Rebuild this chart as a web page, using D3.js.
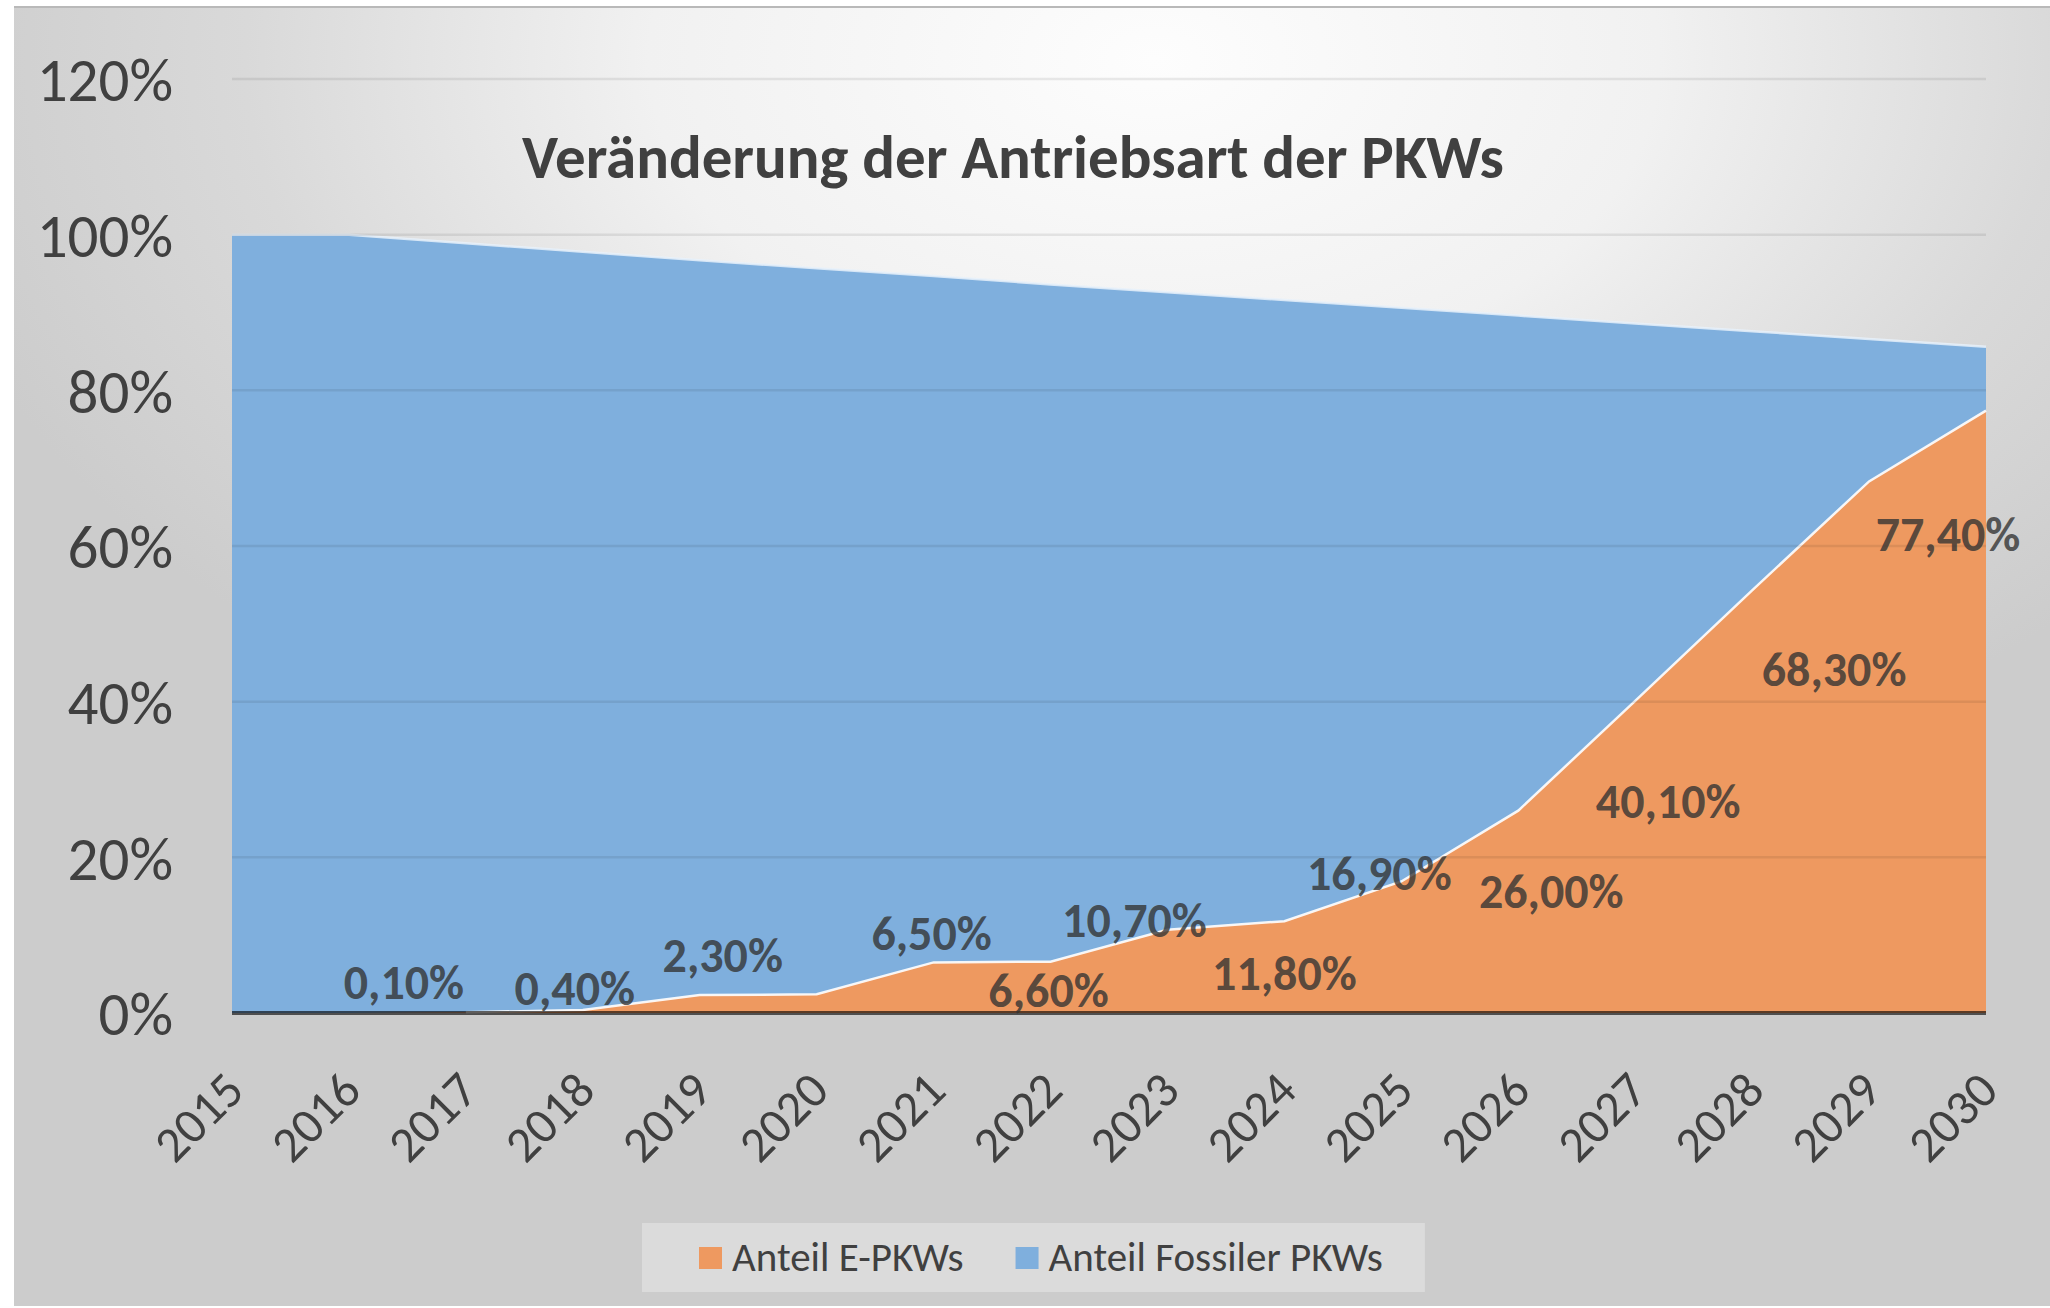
<!DOCTYPE html>
<meta charset="utf-8">
<style>
  body { margin: 0; background: #fff; }
  svg text { font-family: Calibri, Carlito, Lato, sans-serif; }
</style>
<body>
<script src="https://cdn.jsdelivr.net/npm/d3@7"></script>
<script>
// data (percent)
var years = [2015, 2016, 2017, 2018, 2019, 2020, 2021, 2022, 2023, 2024, 2025, 2026, 2027, 2028, 2029, 2030];
var anteilE = [0, 0, 0.1, 0.4, 2.3, 2.4, 6.5, 6.6, 10.7, 11.8, 16.9, 26.0, 40.1, 54.3, 68.3, 77.4];
var anteilFossil = [100, 100, 98.9, 97.8, 96.7, 95.7, 94.7, 93.6, 92.6, 91.6, 90.6, 89.6, 88.6, 87.6, 86.6, 85.6];
var yTicks = [0, 20, 40, 60, 80, 100, 120];
var labelYears = [2017, 2018, 2019, 2021, 2022, 2023, 2024, 2025, 2026, 2027, 2029, 2030];
var seriesNames = ["Anteil E-PKWs", "Anteil Fossiler PKWs"];
var chartTitle = "Veränderung der Antriebsart der PKWs";

// layout
var width = 2050, height = 1308;
var colors = { e: "#ee9960", fossil: "#7fafdd" };
// label nudges (px) from the data point to the label centre, as placed by hand in the original
var nudge = {
  2017: [-62, -31], 2018: [-8, -22], 2019: [23, -40], 2021: [-2, -30],
  2022: [-2, 28], 2023: [-33, -10], 2024: [0, 52], 2025: [-22, -9],
  2026: [33, 80], 2027: [33, 100], 2029: [-35, 187], 2030: [-38, 123]
};

var x = d3.scaleLinear().domain([2015, 2030]).range([232, 1986]);
var y = d3.scaleLinear().domain([0, 120]).range([1013, 79]);

var svg = d3.select("body").append("svg")
    .attr("width", width)
    .attr("height", height);

var defs = svg.append("defs");
var grad = defs.append("radialGradient")
    .attr("id", "bg")
    .attr("cx", 0.56).attr("cy", 0.04).attr("r", 0.62);
grad.append("stop").attr("offset", 0).attr("stop-color", "#fdfdfd");
grad.append("stop").attr("offset", 0.4).attr("stop-color", "#f1f1f1");
grad.append("stop").attr("offset", 0.72).attr("stop-color", "#d9d9d9");
grad.append("stop").attr("offset", 1).attr("stop-color", "#cccccc");

svg.append("rect")
    .attr("x", 14).attr("y", 7)
    .attr("width", width - 14).attr("height", height - 9)
    .attr("fill", "url(#bg)");
svg.append("line")
    .attr("x1", 14).attr("x2", width).attr("y1", 7).attr("y2", 7)
    .attr("stroke", "#b9b9b9").attr("stroke-width", 2);

var rows = years.map(function(yr, i) {
  return { year: yr, e: anteilE[i], fossil: anteilFossil[i] };
});

function areaFor(key) {
  return d3.area()
      .x(function(d) { return x(d.year); })
      .y0(y(0))
      .y1(function(d) { return y(d[key]); });
}
function lineFor(key) {
  return d3.line()
      .defined(function(d) { return d[key] > 0; })
      .x(function(d) { return x(d.year); })
      .y(function(d) { return y(d[key]); });
}

svg.append("path").datum(rows)
    .attr("fill", colors.fossil)
    .attr("d", areaFor("fossil"));
svg.append("path").datum(rows)
    .attr("fill", "none")
    .attr("stroke", "#e8f1fa").attr("stroke-opacity", 0.85).attr("stroke-width", 2.5)
    .attr("d", lineFor("fossil"));

svg.append("path").datum(rows)
    .attr("fill", colors.e)
    .attr("d", areaFor("e"));
svg.append("path").datum(rows)
    .attr("fill", "none")
    .attr("stroke", "#ffffff").attr("stroke-opacity", 0.9).attr("stroke-width", 2.5)
    .attr("d", lineFor("e"));

// gridlines over the areas, faint
svg.append("g").selectAll("line")
    .data(yTicks.filter(function(t) { return t > 0; }))
    .enter().append("line")
    .attr("x1", x(2015)).attr("x2", x(2030))
    .attr("y1", function(d) { return y(d); })
    .attr("y2", function(d) { return y(d); })
    .attr("stroke", "#000").attr("stroke-opacity", 0.08).attr("stroke-width", 2.5);

// y axis
var yAxis = svg.append("g")
    .attr("transform", "translate(" + x(2015) + ",0)")
    .call(d3.axisLeft(y).tickValues(yTicks).tickSize(0).tickPadding(59)
      .tickFormat(function(d) { return d + "%"; }));
yAxis.select(".domain").remove();
yAxis.selectAll("text")
    .attr("dy", "0.36em")
    .style("font-size", "61px")
    .style("fill", "#404040");

// x axis
var xAxis = svg.append("g")
    .attr("transform", "translate(0," + y(0) + ")")
    .call(d3.axisBottom(x).tickValues(years).tickSize(0).tickFormat(d3.format("d")));
xAxis.select(".domain").remove();
xAxis.selectAll("text")
    .attr("x", 0).attr("y", 0).attr("dy", 0)
    .attr("transform", "translate(14,80) rotate(-45)")
    .style("text-anchor", "end")
    .style("font-size", "50px")
    .style("fill", "#404040");

// base line
svg.append("line")
    .attr("x1", x(2015)).attr("x2", x(2030))
    .attr("y1", y(0)).attr("y2", y(0))
    .attr("stroke", "#000").attr("stroke-opacity", 0.62).attr("stroke-width", 4);

// data labels
var fmt = d3.format(".2f");
svg.append("g").selectAll("text")
    .data(rows.filter(function(d) { return labelYears.indexOf(d.year) >= 0; }))
    .enter().append("text")
    .attr("x", function(d) { return x(d.year) + nudge[d.year][0]; })
    .attr("y", function(d) { return y(d.e) + nudge[d.year][1]; })
    .attr("dy", "0.36em")
    .attr("text-anchor", "middle")
    .style("font-size", "48px")
    .style("font-weight", "bold")
    .style("fill", "#333")
    .style("fill-opacity", 0.8)
    .text(function(d) { return fmt(d.e).replace(".", ",") + "%"; });

// title
svg.append("text")
    .attr("x", 1013).attr("y", 178)
    .attr("text-anchor", "middle")
    .style("font-size", "61px")
    .style("font-weight", "bold")
    .style("fill", "#404040")
    .text(chartTitle);

// legend
var legend = svg.append("g");
var legendBox = legend.append("rect")
    .attr("y", 1223).attr("height", 69)
    .attr("fill", "#fff").attr("fill-opacity", 0.3);
var items = legend.selectAll("g.item")
    .data(seriesNames)
    .enter().append("g").attr("class", "item");
items.append("rect")
    .attr("y", 1247).attr("width", 23).attr("height", 22)
    .attr("fill", function(d, i) { return i === 0 ? colors.e : colors.fossil; });
items.append("text")
    .attr("x", 33).attr("y", 1271)
    .style("font-size", "41px")
    .style("fill", "#404040")
    .text(function(d) { return d; });

var startX = 699, gap = 52, cursor = startX;
items.each(function() {
  var g = d3.select(this);
  g.attr("transform", "translate(" + cursor + ",0)");
  cursor += 33 + g.select("text").node().getComputedTextLength() + gap;
});
var contentEnd = cursor - gap;
legendBox.attr("x", startX - 57).attr("width", contentEnd - startX + 57 + 42);
</script>
</body>
